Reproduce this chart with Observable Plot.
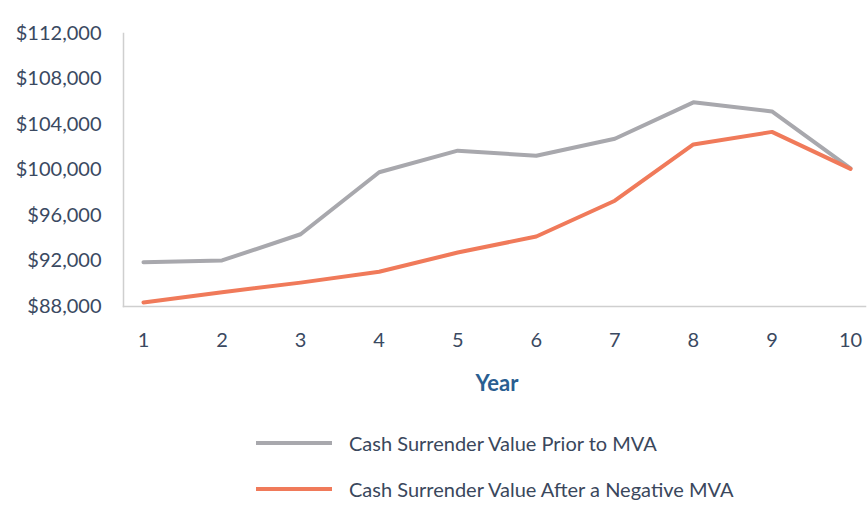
<!DOCTYPE html>
<html><head><meta charset="utf-8">
<script src="https://cdn.jsdelivr.net/npm/d3@7"></script>
<script src="https://cdn.jsdelivr.net/npm/@observablehq/plot@0.6"></script>
<style>
body{margin:0;background:#fff;font-family:Lato,"Open Sans",sans-serif;}
#legend{position:relative;height:111px;}
.row{position:absolute;left:256px;height:24px;display:flex;align-items:center;font-size:20px;color:#3a475c;}
.sw{width:76px;height:4px;margin-right:17px;}
</style></head>
<body>
<div id="chart"></div>
<div id="legend"></div>
<script>
const years = [1,2,3,4,5,6,7,8,9,10];
const priorToMVA = [91900,92050,94350,99800,101700,101250,102750,105950,105150,100150];
const afterNegMVA = [88350,89250,90100,91050,92750,94150,97300,102250,103350,100100];
const yTicks = [88000,92000,96000,100000,104000,108000,112000];
const seriesNames = ["Cash Surrender Value Prior to MVA","Cash Surrender Value After a Negative MVA"];
const colors = ["#a8a8ad","#f07a5a"];

const rows = [];
years.forEach((y,i)=>{
  rows.push({year:y,value:priorToMVA[i],series:seriesNames[0]});
  rows.push({year:y,value:afterNegMVA[i],series:seriesNames[1]});
});

const chart = Plot.plot({
  width:867,height:410,
  marginLeft:123,marginRight:2,marginTop:33,marginBottom:104,
  style:{fontFamily:"Lato, 'Open Sans', sans-serif",fontSize:"20px",color:"#3a4961",background:"#fff"},
  x:{domain:[1,10],range:[143,850],ticks:years,tickFormat:d=>String(d),tickSize:0,tickPadding:26,label:null},
  y:{domain:[88000,112000],ticks:yTicks,tickFormat:d=>"$"+d3.format(",")(d),tickSize:0,tickPadding:22,label:null},
  color:{domain:seriesNames,range:colors},
  marks:[
    Plot.frame({anchor:"left",stroke:"#cfcfcf",strokeWidth:1.5}),
    Plot.frame({anchor:"bottom",stroke:"#cfcfcf",strokeWidth:1.5}),
    Plot.line(rows,{x:"year",y:"value",z:"series",stroke:"series",strokeWidth:4}),
    Plot.text(["Year"],{frameAnchor:"bottom",x:()=>5.5,dy:84,text:d=>d,fill:"#2a5e91",fontSize:22,fontWeight:"bold"})
  ]
});
document.getElementById("chart").appendChild(chart);

const legend = document.getElementById("legend");
seriesNames.forEach((n,i)=>{
  const r=document.createElement("div");r.className="row";
  r.style.top=(21+i*46)+"px";
  r.innerHTML=`<div class="sw" style="background:${colors[i]}"></div><span>${n}</span>`;
  legend.appendChild(r);
});
</script>
</body></html>
